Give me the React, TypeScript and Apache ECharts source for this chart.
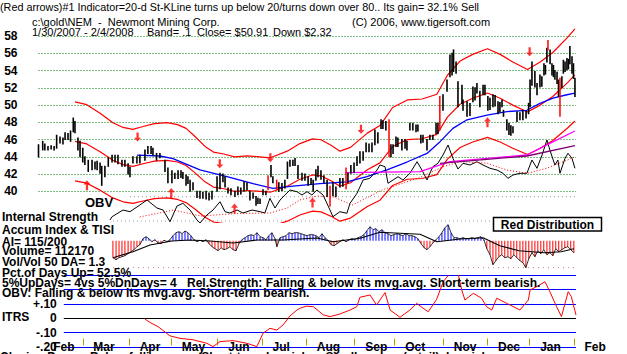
import React, { useEffect, useRef } from 'react';
import * as echarts from 'echarts';

const FONT = '"Liberation Sans", Arial, sans-serif';

// ---- price bars: [tradingDay, low, high, redFlag]
const bars = [
  [0, 44.0, 45.4], [2, 44.8, 45.8], [3, 44.8, 45.5], [4.5, 44.8, 45.2], [6, 44.9, 45.3], [7.4, 44.8, 45.2],
  [8.6, 45.0, 46.5], [10.2, 45.6, 46.3], [11.6, 45.5, 46.2], [12.6, 46.0, 46.8], [14, 46.0, 46.7], [15.2, 45.8, 47.0],
  [16.5, 46.9, 48.5], [17.3, 46.8, 48.1], [18.7, 44.8, 46.2], [19.7, 44.0, 45.8], [21, 43.4, 45.0], [22, 43.1, 44.0],
  [23.6, 42.3, 43.6], [25.4, 42.5, 43.6], [26.8, 42.6, 43.4], [27.8, 42.5, 43.5], [29.2, 42.1, 43.3], [30, 40.7, 42.9],
  [31.5, 41.7, 42.9], [33.1, 42.9, 43.9], [34.9, 43.4, 44.2], [36.3, 43.4, 44.2], [37.7, 43.2, 44.2], [39.6, 42.9, 43.6],
  [41, 42.9, 43.6], [42.5, 42.0, 43.2], [43.4, 41.7, 42.8], [44.8, 43.3, 44.0], [46.7, 43.3, 44.0], [48.1, 43.3, 44.2],
  [50.5, 43.6, 44.8], [51.9, 44.4, 45.2], [53.4, 44.4, 45.2], [54.3, 44.2, 45.0], [56, 43.6, 44.4], [57.6, 43.9, 44.4],
  [60, 42.3, 43.6], [61.4, 41.0, 42.7], [63.3, 41.0, 42.4], [64.7, 41.5, 42.1], [66.2, 41.5, 42.4], [67.6, 41.6, 42.4],
  [68.5, 41.5, 42.2], [70, 40.7, 41.9], [70.9, 40.9, 41.7], [71.9, 40.0, 41.3], [73.3, 40.2, 41.0], [75.2, 39.3, 40.0],
  [76.6, 39.2, 40.0], [78, 39.2, 39.9], [79.5, 39.1, 40.0], [80.9, 39.0, 39.8], [82.3, 39.1, 40.0], [84.7, 40.0, 41.7],
  [86.1, 40.3, 42.1], [87.5, 41.1, 42.0], [88.5, 40.5, 41.7], [89.9, 39.8, 40.4], [91.3, 39.6, 40.3], [93.2, 39.4, 40.0],
  [94.6, 39.6, 40.5], [96, 39.7, 40.4], [97.5, 40.0, 41.1], [98.9, 40.2, 41.0], [100.3, 39.0, 40.0], [101.8, 39.2, 39.8],
  [103.2, 38.4, 39.4], [104.1, 38.6, 39.2], [105.1, 38.6, 39.1], [106.5, 39.6, 40.2], [107.9, 39.6, 40.0], [108.9, 40.2, 41.8, 1],
  [110.3, 41.7, 43.0], [111.2, 41.0, 41.7], [113, 40.2, 41.3, 1], [114, 40.0, 41.0], [115.5, 40.1, 40.9], [116.9, 40.4, 41.3],
  [118.1, 41.5, 43.4], [119.3, 42.9, 43.6], [120.7, 43.0, 43.6], [121.7, 43.0, 43.8], [123.1, 41.5, 43.0], [125, 41.3, 42.1],
  [126.4, 41.3, 42.0], [127.9, 40.7, 41.7], [129.3, 40.8, 41.5], [130.3, 40.0, 41.3], [131.6, 41.3, 42.5], [132.6, 41.7, 42.9],
  [134, 41.4, 42.4], [135.4, 41.0, 41.8], [136.9, 39.4, 41.3], [138.3, 38.3, 40.6, 1], [139.7, 39.5, 41.0], [141.1, 39.4, 40.5],
  [143, 40.5, 41.5], [144.4, 40.6, 41.5], [145.9, 40.3, 42.7, 1], [146.8, 41.0, 42.1], [148.2, 42.1, 43.0], [149.7, 42.2, 43.3],
  [151.1, 43.0, 44.0], [152.5, 43.3, 44.6], [154, 43.6, 44.6], [155.4, 44.6, 45.6], [156.8, 44.6, 45.5], [158.2, 44.6, 45.6],
  [159.6, 45.4, 47.1], [161, 45.6, 46.8], [162.5, 47.3, 48.3], [163.4, 47.3, 48.2], [164.8, 47.1, 48.1], [166.3, 44.0, 48.3, 1],
  [167.2, 44.0, 45.4], [168.2, 44.4, 45.4], [169.6, 45.2, 46.3], [170.5, 45.2, 46.2], [172.4, 44.8, 46.0], [173.9, 45.0, 46.0],
  [174.8, 44.8, 45.8], [176.2, 47.1, 47.9], [177.6, 47.1, 47.9], [179.1, 46.9, 47.7], [180, 47.0, 47.7], [181.4, 45.6, 46.5],
  [182.4, 45.7, 46.5], [184.3, 44.8, 46.0], [185.7, 46.0, 46.5], [187.1, 46.0, 46.5], [188.6, 46.7, 47.9], [189.5, 46.7, 47.9],
  [190.4, 47.1, 51.0, 1], [191.9, 49.4, 51.2], [193.8, 51.6, 52.9], [195.2, 53.3, 55.8], [196.2, 53.5, 56.0], [196.9, 53.9, 56.4],
  [198.1, 53.7, 55.0], [199, 49.8, 52.7], [200.9, 50.2, 52.3], [201.4, 49.4, 50.6], [203.3, 48.7, 50.4], [204.7, 48.8, 50.2],
  [206.1, 50.4, 52.1], [207.1, 50.6, 52.0], [208, 51.4, 52.5], [209.4, 49.8, 51.6], [210.9, 51.2, 52.3], [211.8, 51.2, 52.3],
  [213.2, 49.4, 51.0], [214.2, 49.5, 50.8], [215.6, 49.8, 51.2], [216.6, 49.9, 51.1], [218, 49.0, 50.4], [218.9, 49.2, 50.3],
  [219.9, 49.8, 50.6], [220.6, 48.7, 49.4], [222.2, 47.1, 48.3], [223.2, 46.6, 47.9], [224.1, 46.5, 47.6], [225.1, 46.8, 47.5],
  [227, 48.1, 49.2], [228.4, 48.3, 49.1], [229.8, 48.3, 49.4], [231.3, 48.5, 49.3], [232.5, 49.0, 50.2], [233.2, 49.8, 52.9],
  [234.1, 52.3, 55.0], [235.5, 52.1, 53.9], [236.5, 51.2, 52.5], [237.9, 52.1, 53.5], [238.8, 52.2, 53.3], [239.8, 53.5, 54.8],
  [240.5, 53.6, 54.6], [241.2, 55.0, 56.6], [241.7, 56.4, 57.5, 1], [242.7, 54.8, 56.4], [243.6, 53.5, 54.8], [244.3, 53.3, 54.6],
  [245, 53.0, 54.0], [246, 52.5, 53.8], [246.7, 51.0, 52.9], [247.4, 48.7, 53.1, 1], [248.3, 52.0, 53.3], [249, 53.7, 55.2],
  [249.8, 53.9, 55.0], [250.7, 54.1, 55.4], [251.4, 54.2, 55.3], [252.1, 54.8, 56.8], [253.1, 53.7, 55.6], [253.8, 53.1, 54.8],
  [254.5, 51.0, 53.1],
];

// 21-day moving average (middle band) and band width from the title ("Band= .1")
const ma21 = [
  [17.3, 45.8], [22.9, 45.5], [29.2, 44.6], [35.3, 43.6], [40.1, 43.1], [44.8, 42.9], [49.6, 43.2], [55, 43.5],
  [61, 43.6], [66, 43.4], [70, 43.0], [74, 42.2], [79, 41.1], [83, 40.5], [88, 40.3], [93, 40.0], [99, 40.1],
  [105, 40.0], [110, 39.9], [118, 40.6], [124, 41.4], [130, 41.9], [134, 41.8], [139, 41.2], [143, 40.6], [148, 41.0],
  [156, 42.5], [162, 43.3], [168, 45.2], [175, 46.0], [182, 46.1], [189, 46.6], [194, 48.6], [200, 50.1], [206, 50.8],
  [213, 51.4], [219, 50.8], [225, 50.0], [232, 49.2], [238, 50.0], [244, 51.0], [251, 52.6], [254.5, 53.5],
];
const BAND = 0.1;

const ma50 = [
  [46.7, 44.2], [57.6, 44.1], [63.8, 43.8], [76.6, 42.5], [89.4, 41.7], [101.8, 40.9], [111.2, 40.35], [120.7, 40.6],
  [133.5, 40.9], [146.3, 41.1], [155.8, 41.7], [165.3, 42.5], [174.8, 43.4], [184.3, 44.4], [190.5, 45.76], [196.6, 47.3],
  [203.3, 48.3], [212.8, 48.85], [222.2, 49.25], [231.7, 49.4], [237.9, 50.2], [244.1, 50.8], [250.7, 51.2], [254.5, 51.4],
];

const upArrows = [[23, 40.7], [63, 39.8], [93, 38.0], [130, 38.7], [213, 48.0]];
const downArrows = [[47, 46.3], [86, 43.2], [110, 43.9], [153, 47.2], [233, 56.2]];

// OBV panel (overlaid on the lower part of the price panel), arbitrary units
const obv = [
  [33.9, 5], [34.9, 8.3], [40.1, 15], [43.4, 13.3], [48.1, 20], [51.5, 25], [56.2, 17], [59.1, 15], [62.4, 3.3],
  [65.7, 19], [68.5, 21.7], [71.9, 15], [75.2, 5], [76.6, 2], [79.9, 10], [82.8, 15], [86.1, 23.3], [88.5, 13.3],
  [90.8, 12], [94.2, 15], [97, 12], [101.3, 15], [105.1, 13.3], [107.4, 12], [109.8, 26.7], [112.2, 17], [114.6, 25],
  [116.9, 30], [119.3, 35], [122.6, 33.3], [125, 30], [127.4, 33.3], [129.7, 30], [132.1, 35], [135, 30], [138.3, 15],
  [139.7, 8.3], [143, 13.3], [146.3, 11.7], [147.8, 21.7], [151.1, 31.7], [154, 45], [157.2, 46.7], [160.6, 55], [162, 60],
  [164.4, 58.3], [165.8, 41.7], [168.2, 45], [170.6, 48.3], [172.9, 45], [176.2, 51.7], [179.6, 63.3], [181.9, 55],
  [184.3, 45], [187.1, 58.3], [189.5, 61.7], [191.9, 70], [194.3, 80], [196.6, 66.7], [199, 56], [201.4, 61.7], [204.7, 60],
  [208, 63.3], [210.9, 60], [214.2, 56.7], [217.5, 55], [220.4, 51.7], [222.7, 46.7], [225.1, 50], [228.4, 51.7],
  [231.7, 51.7], [234.1, 65], [236.5, 56.7], [238.9, 70], [241.2, 85], [242.6, 75], [245, 60], [246.4, 65], [247.4, 51.7],
  [249.8, 66.7], [251.2, 71.7], [253.1, 66.7], [254.5, 56.7],
];
const obvMa = [
  [48, 8], [64, 15], [77, 9], [94, 11.5], [110, 12], [118, 17], [124, 25], [132, 29], [140, 28], [149, 20], [163, 35],
  [180, 46.7], [192, 58.3], [200, 63.3], [213, 61.7], [222, 55], [232, 51.7], [241, 56.7], [251, 65], [254.5, 68.3],
];
const magentaLine = [[145.4, 52.3], [181, 53.3], [195.2, 63.3], [231.7, 70], [242.6, 81.7], [254.5, 94]];
const purpleLine = [[190.5, 61.7], [231.7, 69], [254.5, 79.3]];

// Accumulation index histogram and its average
const aiValues = [
  [35.3, -17], [36.8, -19], [38.2, -17], [39.6, -16], [41, -15], [42.5, -13], [43.9, -11], [45.3, -9], [46.7, -6],
  [48.1, -4], [49.6, 2], [51, 4], [52.4, 2], [53.8, -1], [55.2, 1], [56.7, -2], [58.1, -3], [59.5, 0.5], [61, -1],
  [62.4, 1], [63.8, 5], [65.2, 8], [66.7, 9], [68.1, 7], [69.5, 9.7], [70.9, 8], [72.3, 5], [73.8, 1], [75.2, -1],
  [76.6, 0.5], [78, -1], [79.5, 1], [80.9, -3], [82.3, -6], [83.7, -8], [85.2, -10], [86.6, -7], [88, -9], [89.4, -8],
  [90.8, -6], [92.3, -9], [93.7, -10], [95.1, -3], [96.5, 1], [98, 3], [99.4, 5], [100.8, 6], [102.2, 5], [103.6, 8],
  [105.1, 4], [106.5, 3], [107.9, 1], [109.3, 5], [110.7, 8], [112.2, 2], [113.1, -6], [114.6, 3], [116, 4], [117.4, 5],
  [118.8, 8], [120.3, 7], [121.7, 8], [123.1, 8], [124.5, 7], [126, 6], [127.4, 5], [128.8, 6], [130.2, 6], [131.6, 5],
  [133.1, 3], [134.5, 7], [135.9, 3], [137.3, 0.5], [138.8, -4], [140.2, -5], [141.6, -3], [143, -1], [144.4, 1],
  [145.9, -1], [147.3, 1], [148.7, 2], [150.1, 1], [151.6, 3], [153, 4], [154.4, 6], [155.8, 10], [157.3, 14], [158.7, 11],
  [160.1, 12], [161.5, 9], [163, 11], [164.4, 8], [165.8, 7], [167.2, 5], [168.6, 6], [170.1, 7], [171.5, 6], [172.9, 5],
  [174.3, 7], [175.8, 5], [177.2, 5], [178.6, 4], [180, 2], [181.5, -3], [182.9, -7], [184.3, -9], [185.7, -6], [187.2, -2],
  [188.6, 1], [190, 4], [191.4, 8], [192.8, 13], [194.3, 16], [195.7, 8], [197.1, 3], [198.5, 3], [199.9, 2], [201.4, 3],
  [202.8, 2], [204.2, 2], [205.6, 3], [207, 2], [208.5, 3], [209.9, 4], [211.3, 1], [212.7, -8], [214.2, -14], [215.6, -24],
  [217, -20], [218.4, -16], [219.8, -14], [221.2, -17], [222.7, -16], [224.1, -18], [225.5, -14], [226.9, -17], [228.4, -20],
  [229.8, -22], [231.2, -27], [232.6, -18], [234.1, -12], [235.5, -16], [236.9, -10], [238.3, -13], [239.7, -9], [241.2, -14],
  [242.6, -12], [244, -15], [245.4, -8], [246.8, -11], [248.3, -9], [249.7, -7], [251.1, -6], [252.5, -9], [254, -12],
];
const aiMa = [
  [35.3, -17], [44.8, -11], [52.9, -4.3], [63.3, -0.3], [71.9, 0.7], [81.4, -0.3], [92.3, -2.3], [103.6, 0.7], [116, 0.7],
  [132.1, 2.7], [139.7, -1], [152.5, 2.5], [162, 8.4], [181, 6.4], [189, -1], [199.9, 1.7], [210.9, 3], [218.9, -5],
  [228, -10], [240, -12], [248, -11], [254, -8],
];

// ITRS (relative strength)
const itrs = [
  [50.5, -0.006], [53, -0.03], [56.7, -0.058], [59.5, -0.09], [62.4, -0.123], [67.1, -0.14], [73.3, -0.15], [79.9, -0.175],
  [82.8, -0.198], [86.1, -0.163], [92.3, -0.156], [98.9, -0.175], [103.6, -0.198], [106.5, -0.105], [109.8, -0.07],
  [113.1, -0.082], [116, -0.047], [119.3, 0.016], [122.6, 0.058], [124, 0.07], [127, 0.085], [130.4, 0.081], [135.1, 0.024],
  [138.3, 0.012], [143, 0.03], [147.8, 0.058], [151, 0.081], [152.5, 0.147], [157.3, 0.163], [160.4, 0.093], [164.4, 0.18],
  [166.8, 0.058], [171.5, 0.007], [176.2, 0.058], [179.4, 0.105], [182.5, 0.07], [184.9, 0.046], [188.9, 0.133], [192, 0.256],
  [195.2, 0.315], [199.2, 0.303], [200.8, 0.198], [202.3, 0.128], [206.3, 0.175], [210.2, 0.14], [212.6, 0.081], [215, 0.058],
  [217.4, 0.14], [222.1, 0.105], [228.4, 0.058], [232.4, 0.128], [233.2, 0.198], [236.3, 0.221], [240.3, 0.256], [242.6, 0.186],
  [245.8, 0.081], [248.1, 0.012], [251.3, 0.186], [252.8, 0.151], [255, 0.023],
];

const monthNames = ['Feb', 'Mar', 'Apr', 'May', 'Jun', 'Jul', 'Aug', 'Sep', 'Oct', 'Nov', 'Dec', 'Jan', 'Feb'];
const monthStarts = [2, 21, 43, 63, 85, 106, 127, 150, 169, 192, 213, 233, 254];
const itrsLabels: Record<number, string> = { 10: '+.10', 0: '0', [-10]: '-.10', [-20]: '-.20' };

const LAST_DAY = 255;
const X0 = 38.5;
const PW = 537.5;
const PXD = PW / LAST_DAY;

const UP = 'path://M5 0 L10 5 L6.6 5 L6.6 12 L3.4 12 L3.4 5 L0 5 Z';
const DOWN = 'path://M3.4 0 L6.6 0 L6.6 7 L10 7 L5 12 L0 7 L3.4 7 Z';

function txt(text: string, x: number, y: number, font: string, extra: any = {}) {
  return {
    type: 'text', x, y, z: 100,
    style: { text, font, fill: '#000', textVerticalAlign: 'middle', verticalAlign: 'middle', ...extra },
  };
}

function buildOption(): any {
  const B12 = `bold 12px ${FONT}`;
  const R11 = `11px ${FONT}`;
  const nb = (s: string) => s.replace(/ {2,}/g, (m) => ' ' + '\u00a0'.repeat(m.length - 1));
  const hidden = (gridIndex: number, min: number, max: number) => ({ gridIndex, type: 'value', min, max, show: false });
  const barData = bars.map((b) => [b[0], b[1], b[2], b[3] || 0]);
  const lineS = (data: any, x: number, color: string, width = 1, extra: any = {}) => ({
    type: 'line', xAxisIndex: x, yAxisIndex: x, data, symbol: 'none', showSymbol: false,
    lineStyle: { color, width, ...(extra.lineStyle || {}) }, z: extra.z || 3, silent: true,
  });

  return {
    animation: false,
    backgroundColor: '#ffffff',
    grid: [
      { left: X0, top: 36.1, width: PW, height: 155.25 },
      { left: X0, top: 18.85, width: PW, height: 203.55 },
      { left: X0, top: 125, width: PW, height: 100 },
      { left: X0, top: 224.7, width: PW, height: 46 },
      { left: X0 + 12 * PXD, top: 275.4, width: (LAST_DAY - 12) * PXD, height: 71.5 },
      { left: X0, top: 300, width: 275 * PXD, height: 38.5 },
    ],
    xAxis: [
      hidden(0, 0, LAST_DAY), hidden(1, 0, LAST_DAY), hidden(2, 0, LAST_DAY), hidden(3, 0, LAST_DAY),
      hidden(4, 12, LAST_DAY),
      {
        gridIndex: 5, type: 'value', min: 0, max: 275, position: 'bottom',
        axisLine: { show: false }, splitLine: { show: false },
        axisTick: { show: true, customValues: monthStarts.slice(1), length: 7, lineStyle: { color: '#b0a000', width: 1 } },
        axisLabel: {
          customValues: monthStarts.map((d) => d + 5),
          formatter: (v: number) => monthNames[monthStarts.indexOf(Math.round(v) - 5)] || '',
          align: 'left', margin: 2, fontFamily: FONT, fontWeight: 'bold', fontSize: 12, color: '#000',
        },
      },
    ],
    yAxis: [
      {
        gridIndex: 0, type: 'value', min: 40, max: 58, interval: 2,
        axisLine: { show: false }, axisTick: { show: false },
        axisLabel: { fontFamily: FONT, fontWeight: 'bold', fontSize: 12, color: '#000', margin: 21, padding: [4, 0, 0, 0] },
        splitLine: { show: true, lineStyle: { color: '#008000', width: 1, type: [1, 2] } },
      },
      hidden(1, 36.4, 60), hidden(2, 0, 100), hidden(3, -30, 16),
      {
        gridIndex: 4, type: 'value', min: -0.2, max: 0.3, interval: 0.1,
        axisLine: { show: false }, axisTick: { show: false },
        axisLabel: {
          formatter: (v: number) => itrsLabels[Math.round(v * 100)] ?? '',
          fontFamily: FONT, fontWeight: 'bold', fontSize: 12, color: '#000', margin: 7,
        },
        splitLine: { show: true, lineStyle: { color: ['#0000ff', '#0000ff', '#000000', '#0000ff', '#0000ff', '#0000ff'], width: 1.2 } },
      },
      hidden(5, 0, 1),
    ],
    series: [
      {
        type: 'custom', xAxisIndex: 1, yAxisIndex: 1, data: barData, encode: { x: 0, y: [1, 2] }, z: 6, silent: true,
        renderItem: (_p: any, api: any) => {
          const d = api.value(0);
          const lo = api.coord([d, api.value(1)]);
          const hi = api.coord([d, api.value(2)]);
          const red = api.value(3) === 1;
          return {
            type: 'line',
            shape: { x1: lo[0], y1: lo[1] + 0.5, x2: hi[0], y2: hi[1] - 0.5 },
            style: { stroke: red ? '#ff0000' : '#000000', lineWidth: red ? 1.5 : 1.6 },
          };
        },
      },
      lineS(ma21, 1, '#ff0000', 1.2),
      lineS(ma21.map(([d, v]) => [d, v * (1 + BAND)]), 1, '#ff0000', 1.2),
      lineS(ma21.map(([d, v]) => [d, v * (1 - BAND)]), 1, '#ff0000', 1.2),
      lineS(ma50, 1, '#0000ff', 1.3),
      {
        type: 'scatter', xAxisIndex: 1, yAxisIndex: 1, data: upArrows, symbol: UP, symbolSize: [7, 10],
        itemStyle: { color: '#ff0000' }, z: 8, silent: true,
      },
      {
        type: 'scatter', xAxisIndex: 1, yAxisIndex: 1, data: downArrows, symbol: DOWN, symbolSize: [7, 9],
        itemStyle: { color: '#ff0000' }, z: 8, silent: true,
      },
      lineS(obv, 2, '#000000', 1),
      lineS(obvMa, 2, '#ff0000', 1, { lineStyle: { type: [1, 2] } }),
      lineS(magentaLine, 2, '#ff00ff', 1.3),
      lineS(purpleLine, 2, '#800070', 1.3),
      {
        type: 'bar', xAxisIndex: 3, yAxisIndex: 3, data: aiValues, barWidth: 1, silent: true,
        itemStyle: { color: (p: any) => (p.value[1] >= 0 ? '#0000ff' : '#ff0000') },
      },
      lineS(aiValues, 3, '#000000', 0.8),
      lineS(aiMa, 3, '#000000', 1.1),
      lineS(itrs, 4, '#ff0000', 1),
    ],
    graphic: {
      elements: [
        { type: 'line', shape: { x1: 130, y1: 196.7, x2: 576, y2: 196.7 }, style: { stroke: '#999999', lineDash: [1, 3] }, z: 1 },
        { type: 'line', shape: { x1: 113, y1: 221, x2: 490, y2: 221 }, style: { stroke: '#999999', lineDash: [1, 3] }, z: 1 },
        { type: 'line', shape: { x1: 113, y1: 267.6, x2: 576, y2: 267.6 }, style: { stroke: '#c08090', lineDash: [1, 4] }, z: 1 },
        txt(nb('(Red arrows)#1 Indicator=20-d St-KLine turns up below 20/turns down over 80.. Its gain= 32.1% Sell'), 0, 6.5, `10.8px ${FONT}`),
        txt(nb('c:\\gold\\NEM  -  Newmont Mining Corp.'), 32, 22, R11),
        txt('(C) 2006, www.tigersoft.com', 352, 22, R11),
        txt('1/30/2007 - 2/4/2008', 32, 31.5, R11),
        txt('Band= .1', 147, 31.5, R11),
        txt('Close= $50.91', 197, 31.5, R11),
        txt('Down $2.32', 273, 31.5, R11),
        txt('OBV', 85, 202.5, `bold 13px ${FONT}`),
        txt('Internal Strength', 2, 216.5, B12),
        txt('Accum Index & TISI', 2, 229.5, B12),
        txt('AI= 115/200', 2, 241.8, B12),
        txt('Volume= 112170', 2, 251.3, B12),
        txt('Vol/Vol 50 DA= 1.3', 2, 261.8, B12),
        txt('Pct.of Days Up= 52.5%', 2, 272.5, B12),
        txt('5%UpDays= 4vs 5%DnDays= 4', 2, 282.8, B12),
        txt('Rel.Strength: Falling & below its mvg.avg. Short-term bearish.', 187, 282.8, B12),
        txt('OBV: Falling & below its mvg.avg. Short-term bearish.', 2, 292.8, B12),
        txt('ITRS', 2, 316.8, B12),
        txt(nb('Closing Power  Below falling ma.    Short-term bearish.    Smallmoney  (retail)  bearish.'), 0, 357, B12),
        {
          type: 'rect', z: 90, shape: { x: 493.5, y: 217.5, width: 108, height: 13.5 },
          style: { fill: '#ffffff', stroke: '#000000', lineWidth: 1.5 },
        },
        txt('Red Distribution', 547.5, 224.5, `bold 12px ${FONT}`, { textAlign: 'center', align: 'center' }),
      ],
    },
  };
}

export default function App() {
  const ref = useRef<HTMLDivElement>(null);
  useEffect(() => {
    const chart = echarts.init(ref.current as HTMLDivElement, null, { renderer: 'svg' });
    chart.setOption(buildOption());
    return () => chart.dispose();
  }, []);
  return (
    <div
      ref={ref}
      style={{ position: 'fixed', left: 0, top: 0, width: 627, height: 354, background: '#fff' }}
    />
  );
}
